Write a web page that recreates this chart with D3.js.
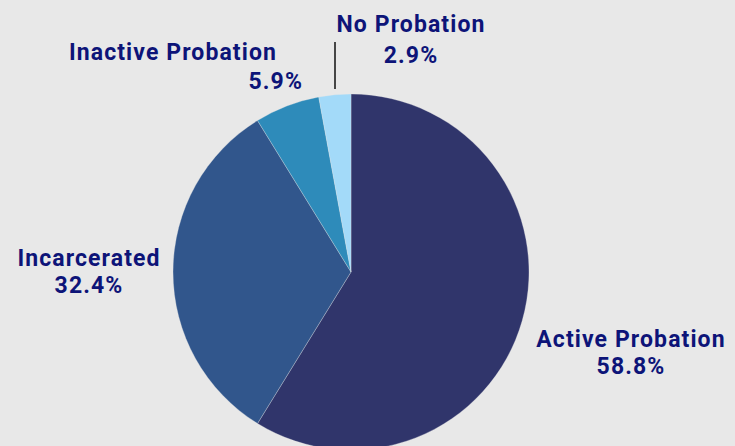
<!DOCTYPE html>
<html><head><meta charset="utf-8">
<script src="https://cdn.jsdelivr.net/npm/d3@7"></script>
<style>html,body{margin:0;padding:0;background:#e8e8e8;}svg{display:block;}</style>
</head><body><svg id="c" width="735" height="446"></svg>
<script>
const categories = ["Active Probation", "Incarcerated", "Inactive Probation", "No Probation"];
const values = [58.8, 32.4, 5.9, 2.9];
const colors = ["#30356b", "#31568c", "#2e8bba", "#a3daf9"];
const valueLabels = ["58.8%", "32.4%", "5.9%", "2.9%"];

const svg = d3.select("#c");
const cx = 351, cy = 272, r = 178;
const data = categories.map((c, i) => ({cat: c, v: values[i], color: colors[i], lab: valueLabels[i]}));
const pie = d3.pie().sort(null).value(d => d.v);
const arc = d3.arc().innerRadius(0).outerRadius(r);
const g = svg.append("g").attr("transform", `translate(${cx},${cy})`);
g.selectAll("path").data(pie(data)).enter().append("path")
  .attr("d", arc).attr("fill", d => d.data.color)
  .attr("stroke", "#e8e8e8").attr("stroke-width", 0.3);

// label positions (layout only)
const pos = [
  {x: 631, y1: 347, y2: 374, a2: "middle", x2: 631, a1: "middle"},
  {x: 89, y1: 266, y2: 293, a2: "middle", x2: 89, a1: "middle"},
  {x: 277, y1: 60, y2: 89, a2: "end", x2: 303, a1: "end"},
  {x: 411, y1: 32, y2: 63, a2: "middle", x2: 411, a1: "middle"}
];
const font = "Roboto, sans-serif";
data.forEach((d, i) => {
  const p = pos[i];
  svg.append("text").attr("x", p.x).attr("y", p.y1).attr("text-anchor", p.a1)
    .attr("font-family", font).attr("font-weight", 700).attr("font-size", 23)
    .attr("letter-spacing", 1.1)
    .attr("fill", "#0d1478").text(d.cat);
  svg.append("text").attr("x", p.x2).attr("y", p.y2).attr("text-anchor", p.a2)
    .attr("font-family", font).attr("font-weight", 700).attr("font-size", 23)
    .attr("letter-spacing", 1.1)
    .attr("fill", "#0d1478").text(d.lab);
});
// leader line for No Probation
svg.append("line").attr("x1", 335).attr("x2", 335).attr("y1", 42).attr("y2", 89)
  .attr("stroke", "#111").attr("stroke-width", 1.5);
</script></body></html>
